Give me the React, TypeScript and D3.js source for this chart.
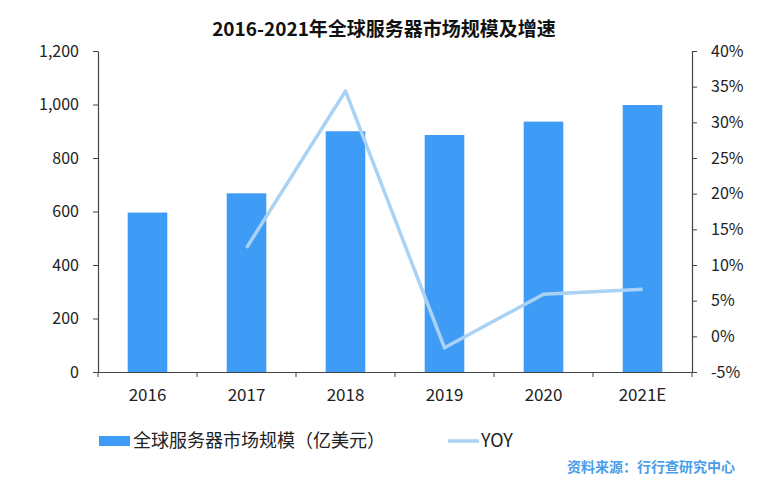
import * as d3 from "d3";
import React, { useRef, useEffect } from "react";

const width = 784;
const height = 500;
const margin = { top: 51, right: 92, bottom: 128, left: 98 };

const years = ["2016", "2017", "2018", "2019", "2020", "2021E"];
const marketSize = [596, 668, 900, 886, 936, 998];
const yoyYears = ["2017", "2018", "2019", "2020", "2021E"];
const yoyValues = [12.4, 34.4, -1.6, 5.9, 6.6];
const leftTicks = [0, 200, 400, 600, 800, 1000, 1200];
const rightTicks = [-5, 0, 5, 10, 15, 20, 25, 30, 35, 40];

const barColor = "#3f9cf6";
const lineColor = "#a9d2f5";
const axisColor = "#444";
const font = "'Noto Sans CJK SC', 'Noto Sans', sans-serif";

export default function App() {
  const ref = useRef(null);

  useEffect(() => {
    const svg = d3.select(ref.current);
    svg.selectAll("*").remove();

    const x = d3
      .scaleBand()
      .domain(years)
      .range([margin.left, width - margin.right])
      .paddingInner(0.6)
      .paddingOuter(0.3);

    const y = d3
      .scaleLinear()
      .domain([0, 1200])
      .range([height - margin.bottom, margin.top]);

    const y2 = d3
      .scaleLinear()
      .domain([-5, 40])
      .range([height - margin.bottom, margin.top]);

    // Title
    svg
      .append("text")
      .attr("x", 384)
      .attr("y", 36)
      .attr("text-anchor", "middle")
      .style("font-family", font)
      .style("font-size", "19px")
      .style("font-weight", "bold")
      .style("fill", "#111")
      .text("2016-2021年全球服务器市场规模及增速");

    // Bars
    svg
      .append("g")
      .attr("fill", barColor)
      .selectAll("rect")
      .data(years)
      .join("rect")
      .attr("x", (d: any) => x(d) as number)
      .attr("y", (d: any, i: number) => y(marketSize[i]))
      .attr("width", x.bandwidth())
      .attr("height", (d: any, i: number) => y(0) - y(marketSize[i]));

    // YOY line
    const line = d3
      .line<number>()
      .x((d: any, i: number) => (x(yoyYears[i]) as number) + x.bandwidth() / 2)
      .y((d: number) => y2(d));

    svg
      .append("path")
      .datum(yoyValues)
      .attr("fill", "none")
      .attr("stroke", lineColor)
      .attr("stroke-width", 3.5)
      .attr("stroke-linejoin", "round")
      .attr("d", line as any);

    // Left axis
    svg
      .append("g")
      .attr("transform", `translate(${margin.left},0)`)
      .call(
        d3
          .axisLeft(y)
          .tickValues(leftTicks)
          .tickFormat(d3.format(",") as any)
          .tickSize(5)
          .tickSizeOuter(0)
          .tickPadding(14)
      )
      .call((g: any) => {
        g.select(".domain").attr("stroke", axisColor).attr("stroke-width", 1.2);
        g.selectAll(".tick line").attr("stroke", axisColor);
        g.selectAll("text")
          .style("font-family", font)
          .style("font-size", "16px")
          .style("fill", "#222");
      });

    // Right axis
    svg
      .append("g")
      .attr("transform", `translate(${width - margin.right},0)`)
      .call(
        d3
          .axisRight(y2)
          .tickValues(rightTicks)
          .tickFormat((d: any) => d + "%")
          .tickSize(5)
          .tickSizeOuter(0)
          .tickPadding(14)
      )
      .call((g: any) => {
        g.select(".domain").attr("stroke", axisColor).attr("stroke-width", 1.2);
        g.selectAll(".tick line").attr("stroke", axisColor);
        g.selectAll("text")
          .style("font-family", font)
          .style("font-size", "16px")
          .style("fill", "#222");
      });

    // Bottom axis
    const xAxis = svg
      .append("g")
      .attr("transform", `translate(0,${height - margin.bottom})`);
    xAxis
      .call(d3.axisBottom(x).tickSize(0).tickSizeOuter(0).tickPadding(17))
      .call((g: any) => {
        g.select(".domain").attr("stroke", axisColor).attr("stroke-width", 1.2);
        g.selectAll("text")
          .style("font-family", font)
          .style("font-size", "17px")
          .style("fill", "#222");
      });
    const bounds = years.map((d) => (x(d) as number) - (x.step() * x.paddingInner()) / 2);
    bounds.push(width - margin.right);
    xAxis
      .selectAll("line.bound")
      .data(bounds)
      .join("line")
      .attr("class", "bound")
      .attr("x1", (d: number) => d)
      .attr("x2", (d: number) => d)
      .attr("y1", 0)
      .attr("y2", 5)
      .attr("stroke", axisColor);

    // Legend
    const legend = svg.append("g").attr("transform", "translate(99,440)");
    legend
      .append("rect")
      .attr("x", 0)
      .attr("y", -4)
      .attr("width", 31)
      .attr("height", 10)
      .attr("fill", barColor);
    legend
      .append("text")
      .attr("x", 34)
      .attr("y", 7)
      .style("font-family", font)
      .style("font-size", "18px")
      .style("fill", "#222")
      .text("全球服务器市场规模（亿美元）");
    legend
      .append("line")
      .attr("x1", 349)
      .attr("x2", 380)
      .attr("y1", 1)
      .attr("y2", 1)
      .attr("stroke", lineColor)
      .attr("stroke-width", 3.5);
    legend
      .append("text")
      .attr("x", 382)
      .attr("y", 7)
      .style("font-family", font)
      .style("font-size", "18px")
      .style("fill", "#222")
      .text("YOY");

    // Source
    svg
      .append("text")
      .attr("x", 735)
      .attr("y", 472)
      .attr("text-anchor", "end")
      .style("font-family", font)
      .style("font-size", "14px")
      .style("font-weight", "bold")
      .style("fill", "#4a9de8")
      .text("资料来源：行行查研究中心");
  }, []);

  return (
    <div style={{ position: "absolute", left: 0, top: 0 }}>
      <svg ref={ref} width={width} height={height} style={{ display: "block", background: "#fff" }} />
    </div>
  );
}
